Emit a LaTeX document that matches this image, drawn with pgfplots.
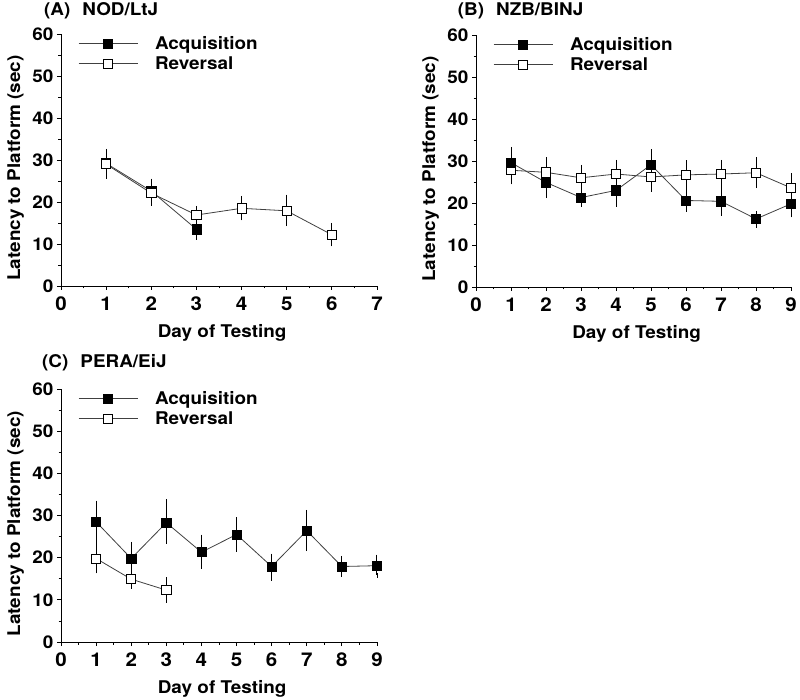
\documentclass[border=0pt]{standalone}
\usepackage{fontspec}
\setmainfont{TeX Gyre Heros}[FakeStretch=1.08]
\usepackage{pgfplots}
\pgfplotsset{compat=1.18}
\newcommand{\lbl}{\fontsize{17.5}{20}\selectfont\bfseries}
\newcommand{\tkl}{\fontsize{17.5}{18}\selectfont\bfseries}
\newcommand{\tklx}{\fontsize{19}{20}\selectfont\bfseries}
\pgfplotsset{
  panel/.style={
    scale only axis, width=316pt, height=252pt,
    anchor=south west,
    axis x line*=bottom, axis y line*=left,
    axis line style={-, line width=0.8pt},
    ymin=0, ymax=60, ytick={0,10,...,60}, minor y tick num=1,
    xmin=0, minor x tick num=1,
    tick align=outside, major tick length=4pt, minor tick length=2.5pt,
    tick style={line width=0.8pt, black},
    /pgf/number format/assume math mode=true,
    yticklabel style={font=\tkl},
    xticklabel style={font=\tklx, yshift=-3pt},
    xlabel={Day of Testing}, ylabel={Latency to Platform (sec)},
    xlabel style={font=\lbl, at={(axis description cs:0.51,-0.2024)}, anchor=base},
    ylabel style={font=\lbl, at={(axis description cs:-0.1297,0.468)}, anchor=base, rotate=0},
    clip=false,
    legend style={at={(axis description cs:0.054,1.0)}, anchor=north west,
      draw=none, fill=none, inner sep=0pt, row sep=2pt, column sep=15pt,
      font=\lbl, cells={anchor=west}},
    legend image code/.code={\draw[mark repeat=2,mark phase=2,##1] plot coordinates {(0pt,0pt) (29.5pt,0pt) (59pt,0pt)};},
  },
  ebar/.style={error bars/y dir=both, error bars/y explicit,
    error bars/error bar style={line width=1pt, black},
    error bars/error mark options={mark size=2.3pt, line width=1pt, black}},
  acq/.style={color=black!75, line width=0.8pt, mark=square*, mark size=4.6pt,
    mark options={fill=black, draw=black, line width=0.6pt, solid}},
  rev/.style={color=black!75, line width=0.8pt, mark=square*, mark size=4.6pt,
    mark options={fill=white, draw=black, line width=0.7pt, solid}},
}
\begin{document}
\begin{tikzpicture}
\useasboundingbox (0pt,0pt) rectangle (800pt,699pt);
% Panel A
\begin{axis}[panel, at={(61pt,413pt)}, xmax=7, xtick={0,...,7}]
\addplot[acq, ebar] coordinates {
 (1,29.2) += (0,2.9) -= (0,3.0)
 (2,22.6) += (0,2.4) -= (0,2.6)
 (3,13.5) += (0,2.2) -= (0,1.9)
};
\addlegendentry{Acquisition}
\addplot[rev, ebar] coordinates {
 (1,29.0) += (0,2.9) -= (0,2.9)
 (2,22.1) += (0,2.8) -= (0,2.4)
 (3,16.9) += (0,1.6) -= (0,1.6)
 (4,18.5) += (0,2.4) -= (0,2.3)
 (5,17.9) += (0,3.3) -= (0,3.1)
 (6,12.2) += (0,2.3) -= (0,2.2)
};
\addlegendentry{Reversal}
\end{axis}
\node[anchor=west, font=\lbl, inner sep=0pt] at (44pt,688pt) {(A)\hspace{12pt}NOD/LtJ};
% Panel B
\begin{axis}[panel, at={(476pt,412pt)}, width=315pt, xmax=9, xtick={0,...,9}]
\addplot[forget plot, rev, ebar] coordinates {
 (1,27.8) += (0,2.9) -= (0,2.8)
 (2,27.3) += (0,3.0) -= (0,3.0)
 (3,26.0) += (0,2.5) -= (0,2.5)
 (4,26.9) += (0,2.8) -= (0,2.8)
 (5,26.2) += (0,3.0) -= (0,3.0)
 (6,26.7) += (0,2.9) -= (0,2.9)
 (7,26.9) += (0,2.8) -= (0,2.9)
 (8,27.2) += (0,3.1) -= (0,3.1)
 (9,23.6) += (0,2.9) -= (0,2.9)
};
\addplot[acq, ebar] coordinates {
 (1,29.6) += (0,3.2) -= (0,3.6)
 (2,24.9) += (0,3.0) -= (0,3.2)
 (3,21.3) += (0,1.8) -= (0,1.6)
 (4,23.0) += (0,3.4) -= (0,3.4)
 (5,29.1) += (0,3.1) -= (0,3.1)
 (6,20.6) += (0,2.1) -= (0,2.1)
 (7,20.4) += (0,2.9) -= (0,2.9)
 (8,16.2) += (0,1.4) -= (0,1.5)
 (9,19.8) += (0,2.7) -= (0,2.7)
};
\addlegendentry{Acquisition}
\addlegendimage{rev}
\addlegendentry{Reversal}
\end{axis}
\node[anchor=west, font=\lbl, inner sep=0pt] at (457.7pt,688pt) {(B)\hspace{12pt}NZB/BINJ};
% Panel C
\begin{axis}[panel, at={(61pt,57pt)}, height=253pt, xmax=9, xtick={0,...,9}]
\addplot[acq, ebar] coordinates {
 (1,28.5) += (0,4.5) -= (0,4.5)
 (2,19.8) += (0,3.4) -= (0,3.4)
 (3,28.3) += (0,5.0) -= (0,4.5)
 (4,21.3) += (0,3.6) -= (0,3.4)
 (5,25.5) += (0,3.5) -= (0,3.5)
 (6,17.9) += (0,2.5) -= (0,2.8)
 (7,26.4) += (0,4.4) -= (0,4.3)
 (8,17.9) += (0,2.0) -= (0,1.9)
 (9,18.1) += (0,2.1) -= (0,2.3)
};
\addlegendentry{Acquisition}
\addplot[rev, ebar] coordinates {
 (1,19.8) += (0,3.1) -= (0,3.0)
 (2,14.9) += (0,1.5) -= (0,1.7)
 (3,12.3) += (0,2.5) -= (0,2.5)
};
\addlegendentry{Reversal}
\end{axis}
\node[anchor=west, font=\lbl, inner sep=0pt] at (42pt,336.3pt) {(C)\hspace{12pt}PERA/EiJ};
\end{tikzpicture}
\end{document}
